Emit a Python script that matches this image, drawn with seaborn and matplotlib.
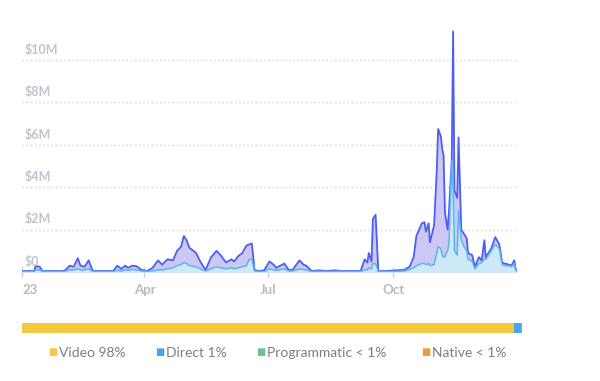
import pandas as pd
import numpy as np
import matplotlib
matplotlib.use("Agg")
import matplotlib.pyplot as plt
import seaborn as sns

# day offsets from 2023-01-01, total spend ($M) and the lighter (video) series ($M)
days = [0, 9, 10, 13, 15, 30, 32, 35, 38, 41, 43, 46, 49, 52, 67, 70, 73, 76, 78, 81,
        84, 88, 92, 96, 100, 103, 107, 111, 114, 117, 119, 121, 123, 128, 131, 135, 139, 143, 146, 150,
        154, 156, 159, 162, 165, 167, 169, 171, 174, 178, 182, 185, 187, 193, 196, 199, 204, 207, 209, 213,
        218, 224, 230, 235, 242, 249, 252, 254, 255, 257, 258, 260, 262, 268, 275, 281, 285, 288, 290, 292,
        294, 296, 297, 299, 300, 303, 305, 306, 308, 309, 310, 311, 312, 313, 314, 316, 317, 318, 320, 321,
        323, 325, 327, 328, 331, 333, 336, 338, 340, 341, 343, 345, 348, 351, 353, 355, 358, 360, 362, 363, 364]
total = [0.05, 0.05, 0.28, 0.25, 0.05, 0.05, 0.1, 0.3, 0.25, 0.65, 0.3, 0.25, 0.55, 0.05, 0.05, 0.3, 0.15, 0.3, 0.2, 0.3,
         0.28, 0.1, 0.05, 0.2, 0.55, 0.35, 0.6, 0.55, 1.0, 1.2, 1.7, 1.5, 1.15, 0.9, 0.5, 0.1, 0.7, 1.0, 0.8, 0.45,
         0.6, 0.5, 0.75, 0.9, 1.25, 1.3, 1.35, 0.1, 0.05, 0.08, 0.5, 0.35, 0.2, 0.4, 0.1, 0.1, 0.55, 0.35, 0.3, 0.05,
         0.08, 0.05, 0.08, 0.05, 0.05, 0.05, 0.6, 0.45, 0.9, 0.5, 2.5, 2.7, 0.05, 0.05, 0.08, 0.1, 0.25, 0.7, 1.7, 2.0,
         2.3, 2.35, 1.9, 2.3, 1.4, 2.2, 4.8, 6.75, 6.4, 5.8, 5.5, 2.8, 2.4, 2.0, 2.9, 5.3, 11.35, 3.85, 3.5, 6.35,
         2.0, 1.8, 1.6, 0.9, 0.8, 0.25, 0.7, 0.55, 1.5, 0.7, 0.9, 1.1, 1.65, 1.3, 0.45, 0.4, 0.35, 0.3, 0.55, 0.15, 0.05]
video = [0.03, 0.03, 0.1, 0.1, 0.03, 0.03, 0.05, 0.1, 0.1, 0.15, 0.1, 0.1, 0.15, 0.03, 0.03, 0.08, 0.05, 0.1, 0.08, 0.12,
         0.1, 0.05, 0.03, 0.05, 0.1, 0.1, 0.15, 0.2, 0.3, 0.35, 0.45, 0.4, 0.3, 0.25, 0.15, 0.05, 0.15, 0.25, 0.2, 0.15,
         0.2, 0.15, 0.2, 0.25, 0.3, 0.6, 0.6, 0.05, 0.03, 0.03, 0.15, 0.1, 0.08, 0.15, 0.05, 0.05, 0.15, 0.12, 0.1, 0.03,
         0.03, 0.03, 0.03, 0.03, 0.03, 0.03, 0.1, 0.1, 0.2, 0.15, 0.4, 0.4, 0.03, 0.03, 0.03, 0.05, 0.12, 0.2, 0.3, 0.35,
         0.4, 0.4, 0.35, 0.4, 0.3, 0.35, 0.9, 1.2, 1.1, 0.8, 0.7, 0.7, 0.9, 1.0, 1.4, 5.25, 4.0, 1.0, 0.8, 2.9,
         1.5, 1.2, 1.0, 0.6, 0.5, 0.15, 0.4, 0.45, 0.6, 0.6, 0.8, 1.0, 1.3, 1.1, 0.35, 0.3, 0.3, 0.25, 0.4, 0.1, 0.03]

y_ticks = [0, 2, 4, 6, 8, 10]
y_labels = ["$0", "$2M", "$4M", "$6M", "$8M", "$10M"]
x_ticks = ["2023-01-01", "2023-04-01", "2023-07-01", "2023-10-01"]
x_labels = ["23", "Apr", "Jul", "Oct"]

channels = ["Video 98%", "Direct 1%", "Programmatic < 1%", "Native < 1%"]
shares = [98.3, 1.4, 0.2, 0.1]
channel_colors = ["#f5c842", "#4ba3ec", "#6fbf8a", "#ee9a3a"]

df = pd.DataFrame({
    "date": pd.Timestamp("2023-01-01") + pd.to_timedelta(days, unit="D"),
    "total": total,
    "video": video,
})

sns.set_style("white")
plt.rcParams["font.family"] = ["Lato", "DejaVu Sans"]

fig = plt.figure(figsize=(6, 3.81), dpi=100)
ax = fig.add_axes([0.0367, 0.286, 0.825, 0.648])

dark = "#4d5ef0"
light = "#5cb6ee"
ax.fill_between(df["date"], df["total"], color="#c7c1f4", alpha=0.9, lw=0)
ax.fill_between(df["date"], df["video"], color="#cde9f8", lw=0)
sns.lineplot(data=df, x="date", y="total", ax=ax, color=dark, lw=1.3)
sns.lineplot(data=df, x="date", y="video", ax=ax, color=light, lw=1.1)

ax.set_xlim(pd.Timestamp("2023-01-01"), pd.Timestamp("2023-12-31"))
ax.set_ylim(0, 11.65)
for s in ax.spines.values():
    s.set_visible(False)
ax.axhline(0, color="#c9cdd8", lw=1.2, zorder=0)

for v, lab in zip(y_ticks, y_labels):
    if v > 0:
        ax.axhline(v, color="#cfd3dc", lw=1, ls=(0, (1, 2)), zorder=0)
    ax.annotate(lab, (0, v), xycoords=("axes fraction", "data"), xytext=(2, 3),
                textcoords="offset points", ha="left", va="bottom",
                fontsize=9, fontweight="bold", color="#c0c4cf")
ax.set_yticks([])

ax.set_xticks(pd.to_datetime(x_ticks))
ax.set_xticklabels(x_labels, fontsize=9.5, fontweight="bold", color="#b6bac6")
ax.get_xticklabels()[0].set_ha("left")
ax.tick_params(axis="x", direction="inout", length=7, width=1, color="#c9cdd8", pad=5, bottom=True)
ax.set_xlabel("")
ax.set_ylabel("")

# share bar
bax = fig.add_axes([22 / 600, 1 - 333 / 381, 500 / 600, 10 / 381])
left = 0
for sh, c in zip(shares, channel_colors):
    bax.barh(0, sh, left=left, height=1, color=c, lw=0)
    left += sh
bax.set_xlim(0, sum(shares))
bax.set_ylim(-0.5, 0.5)
bax.axis("off")

legend_x = [48, 155, 256, 421]
for x, lab, c in zip(legend_x, channels, channel_colors):
    fig.text(x / 600, 1 - 352 / 381, "■", color=c, fontsize=7, va="center", ha="left",
             family=["DejaVu Sans"])
    fig.text((x + 11) / 600, 1 - 353 / 381, lab, color="#7a7d86", fontsize=10, va="center", ha="left")

fig.savefig("out.png", dpi=100)
